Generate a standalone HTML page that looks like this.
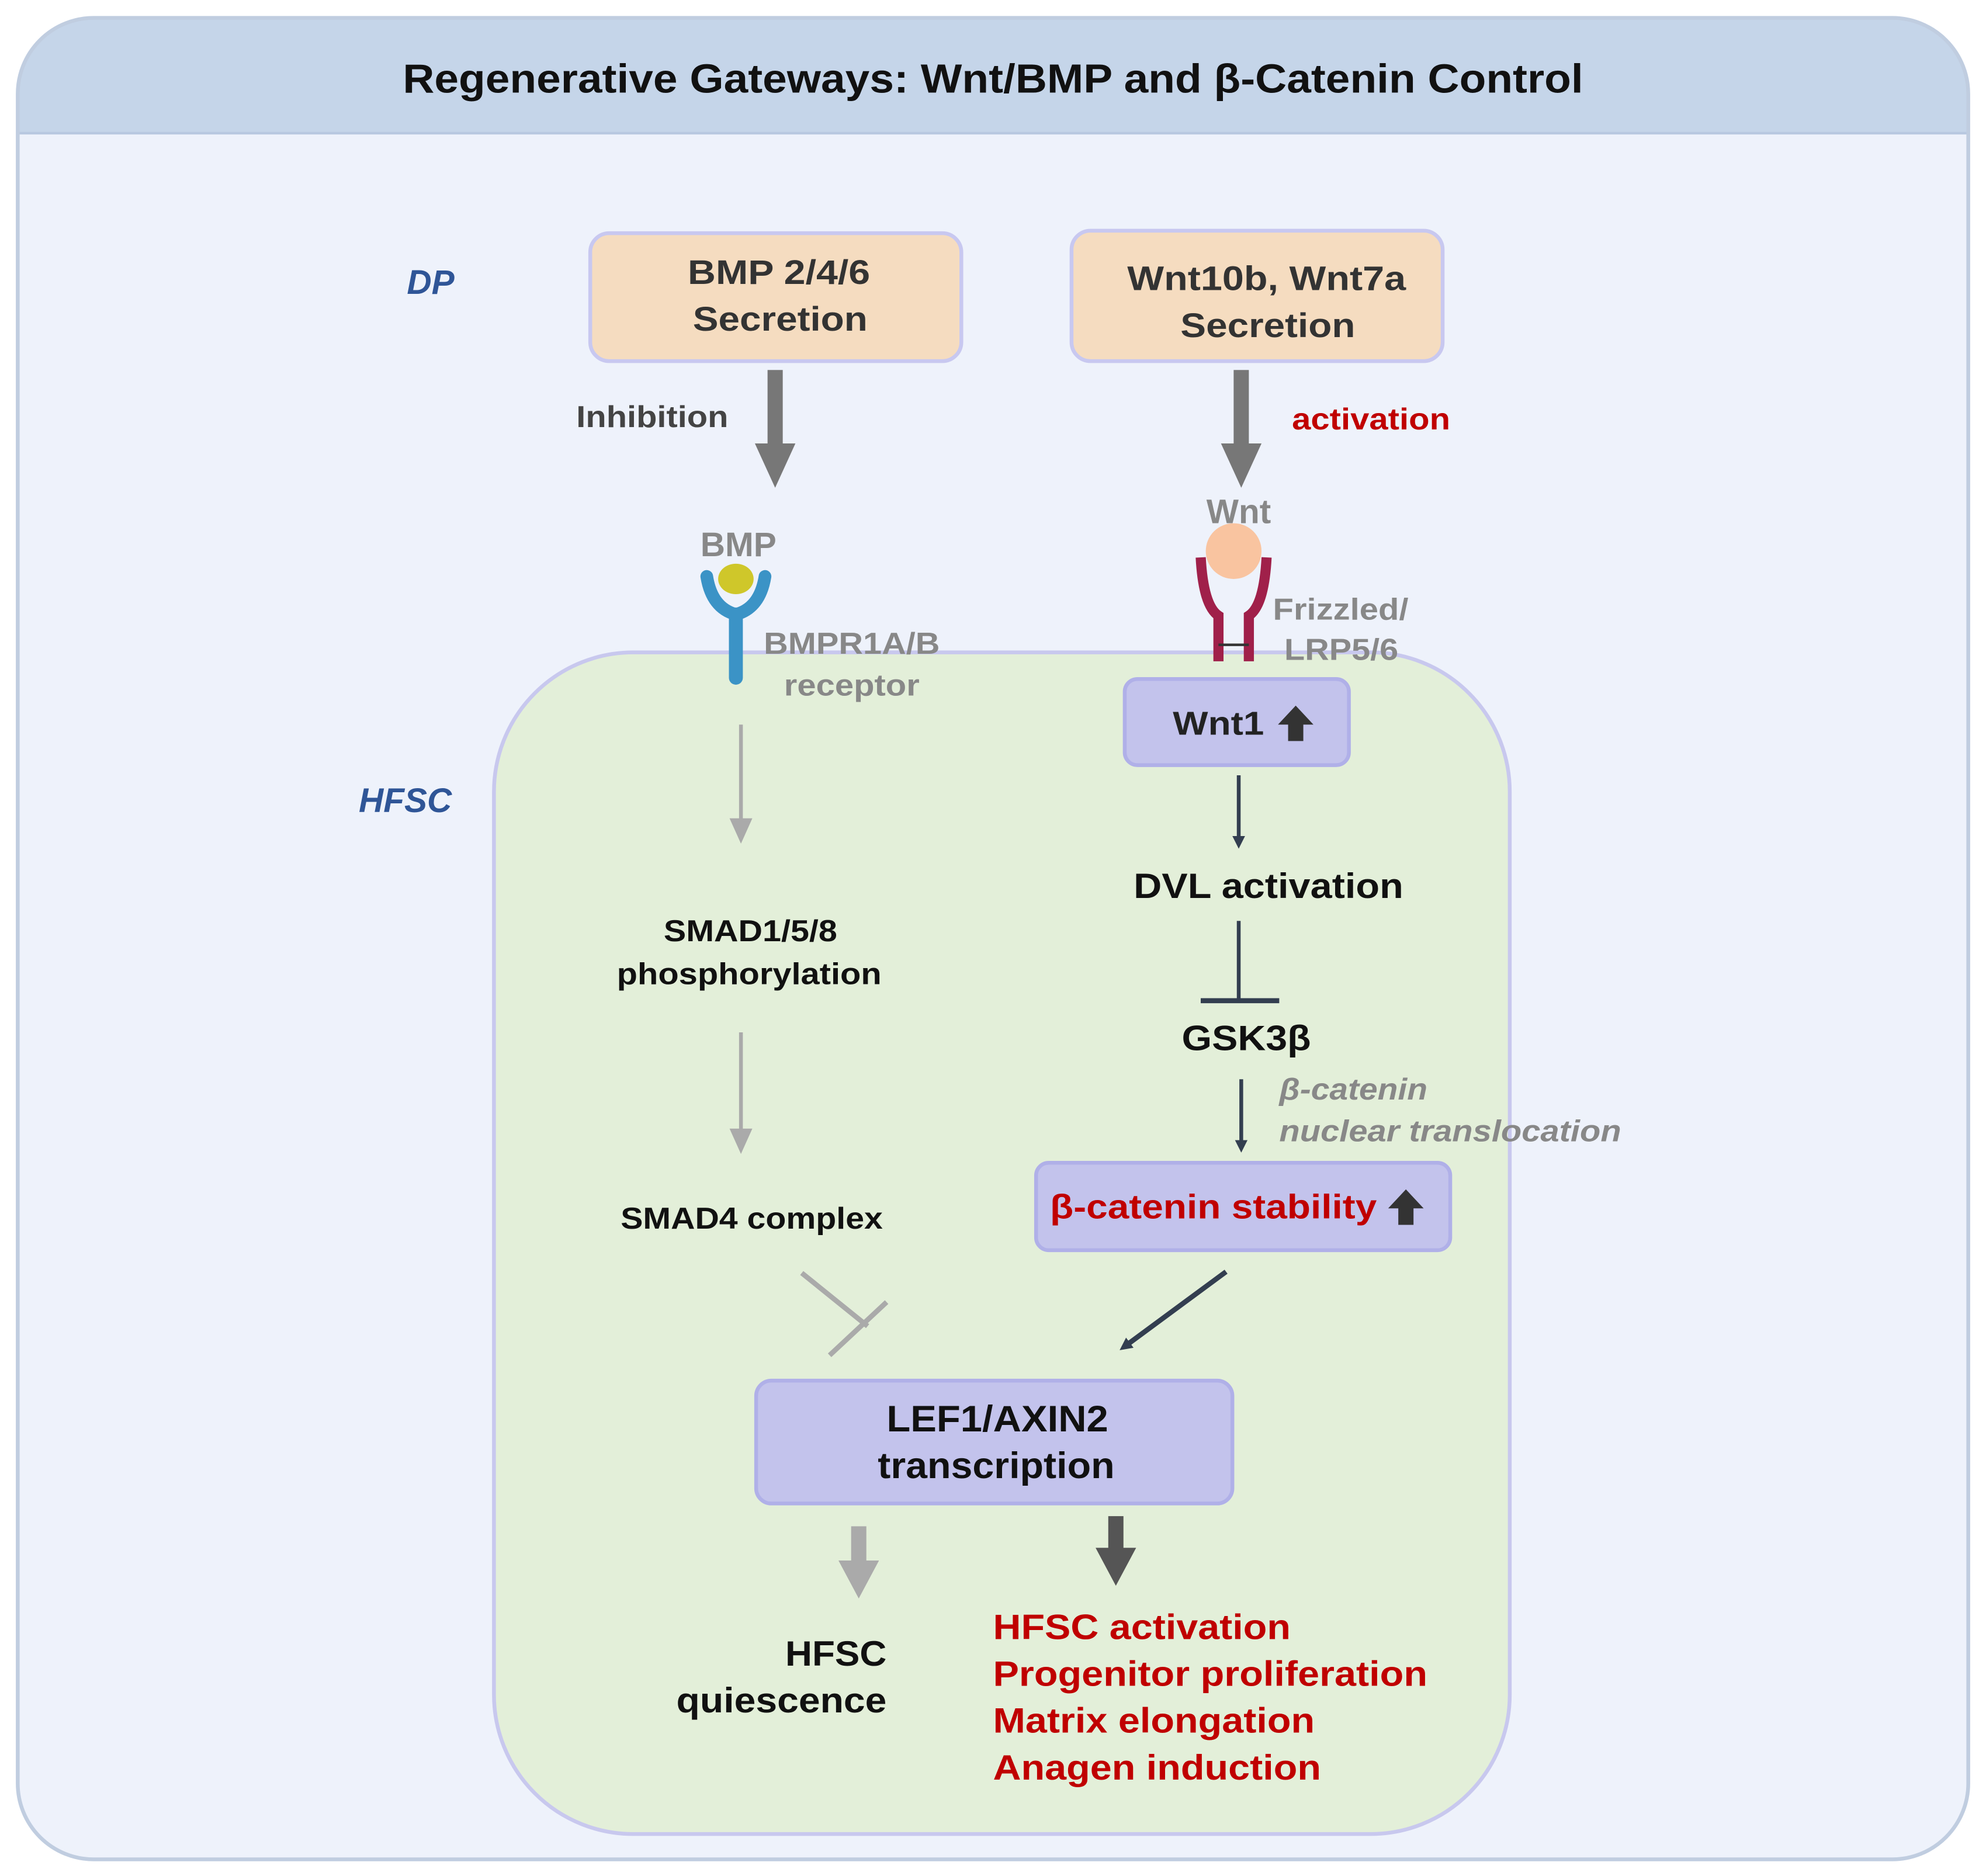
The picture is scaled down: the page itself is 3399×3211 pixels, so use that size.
<!DOCTYPE html>
<html><head><meta charset="utf-8"><style>html,body{margin:0;padding:0;background:#fff}svg{display:block}text{font-family:"Liberation Sans",sans-serif;font-weight:bold}</style></head>
<body>
<svg width="3399" height="3211" viewBox="0 0 1568 1481" xmlns="http://www.w3.org/2000/svg">
<defs>
<marker id="dk" markerWidth="10" markerHeight="10" refX="5" refY="5" orient="auto" markerUnits="userSpaceOnUse" viewBox="0 0 10 10"><path d="M0,0 L10,5 L0,10 z" fill="#333e50"/></marker>
<clipPath id="cp"><rect x="14" y="14" width="1540" height="1454" rx="60"/></clipPath>
</defs>
<g clip-path="url(#cp)">
<rect x="14" y="14" width="1540" height="1454" fill="#eef2fb"/>
<rect x="14" y="14" width="1540" height="91" fill="#c5d5e9"/>
<line x1="14" y1="105" x2="1554" y2="105" stroke="#b8c8e0" stroke-width="2"/>
</g>
<rect x="14" y="14" width="1540" height="1454" rx="60" fill="none" stroke="#c0cde0" stroke-width="3"/>
<text x="318" y="73" font-size="32" textLength="932" lengthAdjust="spacingAndGlyphs" fill="#111">Regenerative Gateways: Wnt/BMP and β-Catenin Control</text>

<text x="340" y="232" font-size="27" font-style="italic" text-anchor="middle" fill="#2f5597">DP</text>
<text x="320" y="641" font-size="27" font-style="italic" text-anchor="middle" fill="#2f5597">HFSC</text>

<rect x="466" y="184" width="293" height="101" rx="15" fill="#f5dcc0" stroke="#c8c8f0" stroke-width="3"/>
<text x="543" y="224" font-size="27" textLength="144" lengthAdjust="spacingAndGlyphs" fill="#333">BMP 2/4/6</text>
<text x="547" y="261" font-size="27" textLength="138" lengthAdjust="spacingAndGlyphs" fill="#333">Secretion</text>
<rect x="846" y="182" width="293" height="103" rx="15" fill="#f5dcc0" stroke="#c8c8f0" stroke-width="3"/>
<text x="890" y="229" font-size="27" textLength="220" lengthAdjust="spacingAndGlyphs" fill="#333">Wnt10b, Wnt7a</text>
<text x="932" y="266" font-size="27" textLength="138" lengthAdjust="spacingAndGlyphs" fill="#333">Secretion</text>

<rect x="606" y="292" width="12" height="60" fill="#777"/><path d="M596,350 L628,350 L612,385 z" fill="#777"/>
<rect x="974" y="292" width="12" height="60" fill="#777"/><path d="M964,350 L996,350 L980,385 z" fill="#777"/>
<text x="455" y="337" font-size="24" textLength="120" lengthAdjust="spacingAndGlyphs" fill="#444">Inhibition</text>
<text x="1020" y="339" font-size="24" textLength="125" lengthAdjust="spacingAndGlyphs" fill="#c00000">activation</text>

<rect x="390" y="515" width="802" height="933" rx="110" fill="#e3efd9" stroke="#c8c8ee" stroke-width="3"/>

<text x="583" y="439" font-size="27" text-anchor="middle" fill="#888">BMP</text>
<ellipse cx="581" cy="457" rx="14" ry="12" fill="#cfc72a"/>
<path d="M558,455 Q562,480 581,485 Q600,480 604,455" fill="none" stroke="#3b93c6" stroke-width="10" stroke-linecap="round"/>
<line x1="581" y1="485" x2="581" y2="535" stroke="#3b93c6" stroke-width="11" stroke-linecap="round"/>
<text x="603" y="516" font-size="24" textLength="139" lengthAdjust="spacingAndGlyphs" fill="#888">BMPR1A/B</text>
<text x="619" y="549" font-size="24" textLength="107" lengthAdjust="spacingAndGlyphs" fill="#888">receptor</text>

<text x="978" y="413" font-size="27" text-anchor="middle" fill="#888">Wnt</text>
<circle cx="974" cy="435" r="22" fill="#f9c4a0"/>
<path d="M948,440 Q950,478 962,486 L962,522" fill="none" stroke="#a0204a" stroke-width="8"/>
<path d="M1000,440 Q998,478 986,486 L986,522" fill="none" stroke="#a0204a" stroke-width="8"/>
<line x1="962" y1="509" x2="986" y2="509" stroke="#333" stroke-width="2"/>
<text x="1005" y="489" font-size="24" textLength="107" lengthAdjust="spacingAndGlyphs" fill="#888">Frizzled/</text>
<text x="1014" y="521" font-size="24" textLength="90" lengthAdjust="spacingAndGlyphs" fill="#888">LRP5/6</text>

<rect x="888" y="536" width="177" height="68" rx="10" fill="#c3c3ec" stroke="#b0b0e8" stroke-width="3"/>
<text x="926" y="580" font-size="26" textLength="72" lengthAdjust="spacingAndGlyphs" fill="#222">Wnt1</text>
<path d="M1023,557 L1037,572 L1029,572 L1029,585 L1017,585 L1017,572 L1009,572 z" fill="#333"/>

<line x1="585" y1="572" x2="585" y2="650" stroke="#aaa" stroke-width="3"/><path d="M576,646 L594,646 L585,666 z" fill="#aaa"/>
<text x="524" y="743" font-size="24" textLength="137" lengthAdjust="spacingAndGlyphs" fill="#111">SMAD1/5/8</text>
<text x="487" y="777" font-size="24" textLength="209" lengthAdjust="spacingAndGlyphs" fill="#111">phosphorylation</text>
<line x1="585" y1="815" x2="585" y2="895" stroke="#aaa" stroke-width="3"/><path d="M576,891 L594,891 L585,911 z" fill="#aaa"/>
<text x="490" y="970" font-size="24" textLength="207" lengthAdjust="spacingAndGlyphs" fill="#111">SMAD4 complex</text>
<line x1="633" y1="1005" x2="685" y2="1047" stroke="#aaa" stroke-width="4"/>
<line x1="655" y1="1070" x2="700" y2="1028" stroke="#aaa" stroke-width="4"/>

<line x1="978" y1="612" x2="978" y2="665" stroke="#333e50" stroke-width="3" marker-end="url(#dk)"/>
<text x="895" y="709" font-size="28" textLength="213" lengthAdjust="spacingAndGlyphs" fill="#111">DVL activation</text>
<line x1="978" y1="727" x2="978" y2="790" stroke="#333e50" stroke-width="3"/>
<line x1="948" y1="790" x2="1010" y2="790" stroke="#333e50" stroke-width="4"/>
<text x="933" y="829" font-size="28" textLength="102" lengthAdjust="spacingAndGlyphs" fill="#111">GSK3β</text>
<line x1="980" y1="852" x2="980" y2="905" stroke="#333e50" stroke-width="3" marker-end="url(#dk)"/>
<text x="1010" y="868" font-size="24" font-style="italic" textLength="117" lengthAdjust="spacingAndGlyphs" fill="#888">β-catenin</text>
<text x="1010" y="901" font-size="24" font-style="italic" textLength="270" lengthAdjust="spacingAndGlyphs" fill="#888">nuclear translocation</text>

<rect x="818" y="918" width="327" height="69" rx="10" fill="#c3c3ec" stroke="#b0b0e8" stroke-width="3"/>
<text x="829" y="962" font-size="27" textLength="258" lengthAdjust="spacingAndGlyphs" fill="#c00000">β-catenin stability</text>
<path d="M1110,939 L1124,954 L1116,954 L1116,967 L1104,967 L1104,954 L1096,954 z" fill="#333"/>

<line x1="968" y1="1004" x2="888" y2="1063" stroke="#333e50" stroke-width="4" marker-end="url(#dk)"/>

<rect x="597" y="1090" width="376" height="97" rx="12" fill="#c3c3ec" stroke="#b0b0e8" stroke-width="3"/>
<text x="700" y="1130" font-size="29" textLength="175" lengthAdjust="spacingAndGlyphs" fill="#111">LEF1/AXIN2</text>
<text x="693" y="1167" font-size="29" textLength="187" lengthAdjust="spacingAndGlyphs" fill="#111">transcription</text>

<rect x="672" y="1205" width="12" height="30" fill="#aaa"/><path d="M662,1232 L694,1232 L678,1262 z" fill="#aaa"/>
<rect x="875" y="1197" width="12" height="28" fill="#555"/><path d="M865,1222 L897,1222 L881,1252 z" fill="#555"/>

<text x="620" y="1315" font-size="28" textLength="80" lengthAdjust="spacingAndGlyphs" fill="#111">HFSC</text>
<text x="534" y="1352" font-size="28" textLength="166" lengthAdjust="spacingAndGlyphs" fill="#111">quiescence</text>
<text x="784" y="1294" font-size="28" textLength="235" lengthAdjust="spacingAndGlyphs" fill="#c00000">HFSC activation</text>
<text x="784" y="1331" font-size="28" textLength="343" lengthAdjust="spacingAndGlyphs" fill="#c00000">Progenitor proliferation</text>
<text x="784" y="1368" font-size="28" textLength="254" lengthAdjust="spacingAndGlyphs" fill="#c00000">Matrix elongation</text>
<text x="784" y="1405" font-size="28" textLength="259" lengthAdjust="spacingAndGlyphs" fill="#c00000">Anagen induction</text>
</svg>
</body></html>
